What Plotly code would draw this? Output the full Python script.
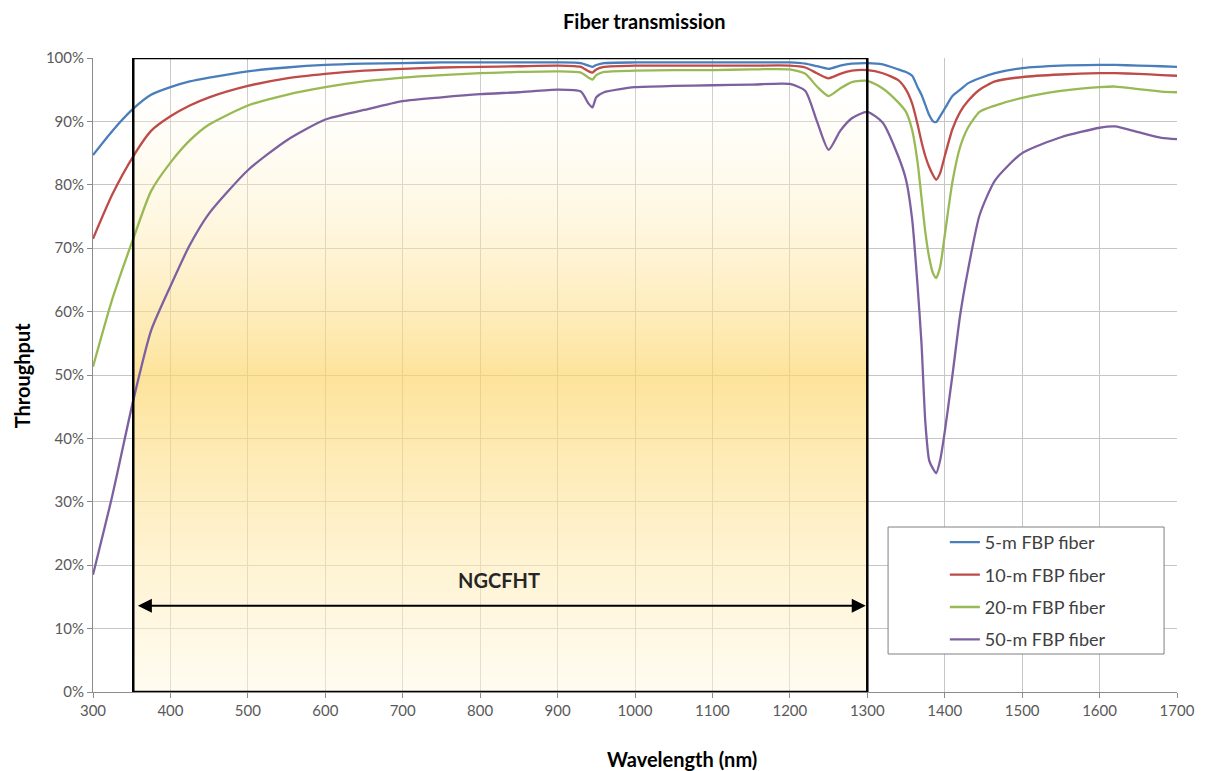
import plotly.graph_objects as go

# ---------------- data ----------------
wavelength = [300, 325, 352, 375, 400, 425, 450, 500, 550, 600,
              650, 700, 750, 800, 850, 900, 930, 940, 945, 950,
              960, 1000, 1050, 1100, 1150, 1200, 1220, 1235, 1250, 1265,
              1280, 1300, 1320, 1340, 1350, 1358, 1365, 1370, 1375, 1380,
              1385, 1389, 1394, 1400, 1410, 1420, 1430, 1445, 1465, 1500,
              1550, 1600, 1620, 1650, 1680, 1700]

fiber_5m = [84.7, 88.5, 92.0, 94.2, 95.4, 96.3, 96.9, 97.9, 98.5, 98.9,
            99.1, 99.2, 99.3, 99.3, 99.3, 99.3, 99.2, 98.8, 98.6, 98.9,
            99.2, 99.3, 99.3, 99.3, 99.3, 99.3, 99.1, 98.7, 98.3, 98.8,
            99.1, 99.2, 99.0, 98.2, 97.8, 97.2, 95.4, 94.2, 92.6, 91.0,
            90.0, 89.9, 90.8, 92.0, 94.0, 95.0, 96.0, 96.8, 97.6, 98.4,
            98.8, 98.9, 98.9, 98.8, 98.7, 98.6]

fiber_10m = [71.5, 78.5, 84.5, 88.5, 90.8, 92.5, 93.8, 95.6, 96.8, 97.5,
             98.0, 98.3, 98.5, 98.6, 98.7, 98.8, 98.6, 97.9, 97.7, 98.2,
             98.6, 98.8, 98.8, 98.8, 98.8, 98.8, 98.5, 97.6, 96.8, 97.5,
             98.0, 98.1, 97.6, 96.5, 95.0, 92.8, 89.5, 86.8, 84.5, 82.8,
             81.5, 80.8, 81.8, 84.5, 88.8, 91.5, 93.2, 95.0, 96.3, 97.0,
             97.4, 97.6, 97.6, 97.5, 97.3, 97.2]

fiber_20m = [51.3, 62.0, 71.5, 79.0, 83.5, 87.0, 89.5, 92.5, 94.2, 95.4,
             96.3, 96.9, 97.3, 97.6, 97.8, 97.9, 97.7, 96.9, 96.6, 97.3,
             97.8, 98.0, 98.1, 98.1, 98.2, 98.2, 97.5, 95.5, 94.0, 95.2,
             96.2, 96.4, 95.2, 93.0, 91.5, 88.6, 83.5, 78.0, 72.5, 68.5,
             66.0, 65.3, 67.0, 72.0, 80.5, 86.0, 89.0, 91.5, 92.5, 93.7,
             94.8, 95.4, 95.5, 95.1, 94.7, 94.6]

fiber_50m = [18.5, 31.0, 46.0, 57.0, 64.0, 70.5, 75.5, 82.3, 87.0, 90.3,
             91.8, 93.2, 93.8, 94.3, 94.6, 95.0, 94.7, 92.8, 92.2, 93.8,
             94.6, 95.4, 95.6, 95.7, 95.8, 95.9, 94.8, 90.0, 85.5, 88.5,
             90.5, 91.5, 89.8, 84.5, 80.8, 74.5, 64.0, 55.0, 42.5, 36.5,
             35.2, 34.5, 36.5, 41.0, 50.0, 59.5, 66.5, 75.2, 80.7, 85.0,
             87.5, 89.0, 89.2, 88.3, 87.4, 87.2]

series_names = ["5-m FBP fiber", "10-m FBP fiber", "20-m FBP fiber", "50-m FBP fiber"]
series_colors = ["#4A7EBB", "#BE4B48", "#98B954", "#7D60A0"]

ngcfht_band = [352, 1300]      # wavelength range of the NGCFHT box
ngcfht_arrow_level = 13.6      # throughput level of the double arrow
ngcfht_label_pos = [824, 17.7]

x_ticks = list(range(300, 1701, 100))
y_ticks = list(range(0, 101, 10))
y_tick_labels = [f"{v}%" for v in y_ticks]

FONT = "Lato"

# page body has an 8px margin; plot area targeted at x 93..1181, y 58..692
OFF = 8
PL, PR, PT, PB = 93, 1181, 58, 692
PW, PH = PR - PL, PB - PT


def px(xp):
    return (xp - PL) / PW


def py(yp):
    return (PB - yp) / PH


fig = go.Figure()

# gradient band
fig.add_trace(go.Scatter(
    x=[ngcfht_band[0], ngcfht_band[1], ngcfht_band[1], ngcfht_band[0], ngcfht_band[0]],
    y=[0, 0, 100, 100, 0],
    mode="lines", line=dict(width=0), fill="toself",
    fillgradient=dict(type="vertical", start=0, stop=100,
                      colorscale=[[0.0, "rgba(255,248,225,0.5)"],
                                  [0.5, "rgba(252,214,108,0.68)"],
                                  [0.9, "rgba(255,250,235,0.3)"],
                                  [1.0, "rgba(255,255,255,0.0)"]]),
    showlegend=False, hoverinfo="skip"))

for name, vals, col in zip(series_names, [fiber_5m, fiber_10m, fiber_20m, fiber_50m], series_colors):
    fig.add_trace(go.Scatter(x=wavelength, y=vals, mode="lines", name=name,
                             legendgroup=name,
                             line=dict(color=col, width=2.3, shape="spline", smoothing=0.6)))

# NGCFHT box
fig.add_shape(type="rect", xref="x", yref="y",
              x0=ngcfht_band[0], x1=ngcfht_band[1], y0=0, y1=100,
              line=dict(color="black", width=2.5), fillcolor="rgba(0,0,0,0)", layer="above")

# legend box
fig.add_shape(type="rect", xref="paper", yref="paper",
              x0=px(891), x1=px(1168), y0=py(654), y1=py(527),
              line=dict(color="#808080", width=1), fillcolor="white", layer="above")

# double arrow
fig.add_annotation(x=ngcfht_band[1] - 2, y=ngcfht_arrow_level,
                   ax=ngcfht_band[0] + 4, ay=ngcfht_arrow_level,
                   xref="x", yref="y", axref="x", ayref="y",
                   text="", showarrow=True, arrowhead=2, arrowside="end+start",
                   arrowsize=1.4, arrowwidth=2, arrowcolor="black",
                   standoff=0, startstandoff=0)
fig.add_annotation(x=ngcfht_label_pos[0], y=ngcfht_label_pos[1], xref="x", yref="y",
                   text="<b>NGCFHT</b>", showarrow=False,
                   xanchor="center", yanchor="middle",
                   font=dict(family=FONT, size=20, color="#262626"))

# titles
fig.add_annotation(x=px(647), y=py(21), xref="paper", yref="paper",
                   text="<b>Fiber transmission</b>", showarrow=False,
                   xanchor="center", yanchor="middle",
                   font=dict(family=FONT, size=20, color="black"))
fig.add_annotation(x=px(684), y=py(759), xref="paper", yref="paper",
                   text="<b>Wavelength (nm)</b>", showarrow=False,
                   xanchor="center", yanchor="middle",
                   font=dict(family=FONT, size=20, color="black"))
fig.add_annotation(x=px(22), y=py(375), xref="paper", yref="paper",
                   text="<b>Throughput</b>", showarrow=False, textangle=-90,
                   xanchor="center", yanchor="middle",
                   font=dict(family=FONT, size=20, color="black"))

fig.update_layout(
    width=1207 - OFF, height=771 - OFF,
    margin=dict(l=PL - OFF, r=1207 - PR, t=PT - OFF, b=771 - PB),
    paper_bgcolor="white", plot_bgcolor="white",
    font=dict(family=FONT, size=13, color="#595959"),
    showlegend=True,
    legend=dict(x=px(948), y=py(524), xanchor="left", yanchor="top",
                bgcolor="rgba(0,0,0,0)", borderwidth=0,
                font=dict(family=FONT, size=18, color="#404040"),
                tracegroupgap=6, itemwidth=30),
    xaxis=dict(range=[300, 1700], tickvals=x_ticks, showgrid=True, gridcolor="#C6C6C6",
               gridwidth=1, showline=True, linecolor="#8C8C8C", linewidth=1,
               ticks="outside", ticklen=5, tickcolor="#8C8C8C", zeroline=False,
               tickfont=dict(size=15, color="#595959")),
    yaxis=dict(range=[0, 100], tickmode="array", tickvals=y_ticks, ticktext=y_tick_labels,
               showgrid=True, gridcolor="#C6C6C6", gridwidth=1, showline=True,
               linecolor="#8C8C8C", linewidth=1, ticks="outside", ticklen=5,
               tickcolor="#8C8C8C", zeroline=False, tickfont=dict(size=15, color="#595959")),
)

fig.write_html("out.html")
